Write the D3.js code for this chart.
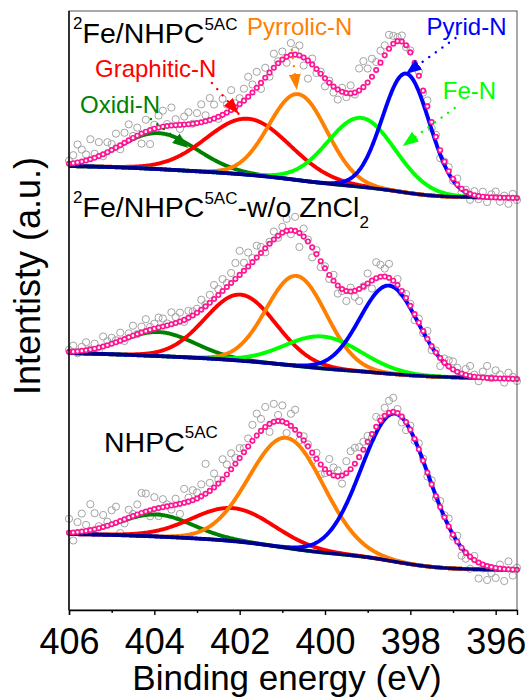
<!DOCTYPE html>
<html>
<head>
<meta charset="utf-8">
<title>N 1s XPS</title>
<style>
  body { margin: 0; background: #fff; }
  svg { display: block; font-family: "Liberation Sans", Arial, sans-serif; }
</style>
</head>
<body>
<div id="chart"></div>
<script src="https://d3js.org/d3.v7.min.js"></script>
<script>
// binding energy of every measured point (eV), 406.0 down to 395.5
var energies = d3.range(0, 106).map(function (i) { return +(406 - i * 0.1).toFixed(1); });

// fitted components
var components = ["Oxidi-N", "Graphitic-N", "Pyrrolic-N", "Fe-N", "Pyrid-N"];
var compColors = ["#008000", "#ff0000", "#ff8000", "#00ff00", "#0000ff"];

// one row per sample, top to bottom (0 = component not used)
var peakCenters = [
    [403.9, 401.8, 400.63, 399.15, 398.1],
    [403.9, 401.98, 400.67, 400.05, 398.5],
    [403.95, 402.15, 400.9, 0, 398.35]
];
var peakHeights = [
    [36, 56, 86, 69, 119],
    [24, 66, 90, 32, 88],
    [22, 33, 110, 0, 148]
];
var peakWidths = [      // FWHM, eV
    [2.1, 2.3, 1.6, 1.85, 1.3],
    [2.0, 1.95, 1.65, 2.1, 1.6],
    [2.0, 2.26, 2.05, 0, 1.85]
];

// background: level at 395.5 eV, linear rise, Shirley step
var bgLow = [412, 231, 40];
var bgLinear = [8, 12, 7];
var bgStep = [24, 14, 29];

// measured counts minus the fit, one value per energy
var residuals = [
    [3, 8, 18, 12, 6, 20, 4, 14, -2, 10,
     6, 14, -4, 10, 16, 2, 8, -10, 12, -14,
     4, 12, 16, 2, 18, 6, -4, 8, 12, 0,
     10, 18, 6, 22, 14, -2, 16, 8, 20, 4,
     6, 12, 20, 8, 16, -6, 10, -4, 14, 2,
     8, -6, 12, 4, 10, -8, -18, 6, -4, 2,
     -8, 2, -6, -10, 4, -4, 8, -2, 22, 26,
     14, 18, 8, 12, 10, 14, 8, 4, 6, -2,
     2, -4, 4, -2, 6, -6, 2, -8, 0, 4,
     -2, 6, -4, 2, -6, 4, -3, 5, -5, 3,
     6, -4, 2, -6, 4, -2],
    [2, 6, -2, 4, 8, 0, 5, -3, 10, 4,
     6, 2, 8, -2, 4, 10, 0, 6, 12, 3,
     5, 10, 8, 2, 12, 6, 9, -2, 7, 4,
     4, 10, 2, 8, 14, 6, 12, 4, 10, 16,
     24, 8, 14, 4, 12, 6, -4, 2, 8, -2,
     6, 12, -4, 14, -14, 8, 2, -10, 4, -6,
     2, -4, 6, -8, -2, -10, 4, -6, -12, 0,
     10, -8, 16, 12, 8, 14, -4, 6, -2, 4,
     2, -6, 4, -2, 8, -4, 2, -8, 4, 6,
     8, 4, -2, 6, 10, 2, -4, 6, 12, 0,
     8, 4, -4, 6, 2, -2],
    [14, -8, 10, 18, 6, 26, 16, 2, 12, 4,
     14, 16, -12, -4, 8, 2, 10, 20, 18, -6,
     12, -8, 8, 2, -4, 6, -10, 14, 4, 10,
     6, 12, 30, 8, 14, 4, 20, 10, 16, 6,
     10, 4, 8, 16, 22, 12, 20, -8, 18, 6,
     16, -10, 12, 20, -6, 4, 2, -8, 6, -10,
     -4, 14, 8, 6, -8, 12, 18, 16, 10, 8,
     6, -4, 10, 2, 8, 12, 14, 4, -6, -8,
     4, -2, 6, 2, -4, 4, -2, 6, 2, 8,
     -2, 6, -8, -6, -12, 4, -16, -4, -14, -6,
     -10, 4, -12, 8, -6, 2]
];

var xTicks = d3.range(396, 407);

// ---------------------------------------------------------------
var W = 529, H = 698;
var mLeft = 69, mRight = 517, mTop = 11, mBottom = 610;

var svg = d3.select("#chart").append("svg")
    .attr("width", W).attr("height", H);

var x = d3.scaleLinear().domain([406, 395.5]).range([mLeft, mRight]);
var y = d3.scaleLinear().domain([0, 599]).range([mBottom, mTop]);

function erf(z) {
    var t = 1 / (1 + 0.3275911 * Math.abs(z));
    var r = 1 - (((((1.061405429 * t - 1.453152027) * t) + 1.421413741) * t - 0.284496736) * t + 0.254829592) * t * Math.exp(-z * z);
    return z >= 0 ? r : -r;
}
function phi(z) { return 0.5 * (1 + erf(z / Math.SQRT2)); }

var fine = d3.range(0, 526).map(function (i) { return 406 - i * 0.02; });
var line = d3.line().x(function (d) { return x(d[0]); }).y(function (d) { return y(d[1]); });

// arrow heads
var defs = svg.append("defs");
compColors.forEach(function (c, k) {
    defs.append("marker")
        .attr("id", "arrow" + k)
        .attr("markerUnits", "userSpaceOnUse")
        .attr("viewBox", "0 0 16 12")
        .attr("markerWidth", 16).attr("markerHeight", 12)
        .attr("refX", 16).attr("refY", 6)
        .attr("orient", "auto")
        .append("path").attr("d", "M0,0 L16,6 L0,12 Z").attr("fill", c);
});

var plot = svg.append("g");

for (var p = 0; p < 3; p++) {
    var peaks = [];
    components.forEach(function (name, k) {
        if (peakHeights[p][k] > 0) {
            var s = peakWidths[p][k] / 2.3548;
            peaks.push({ k: k, c: peakCenters[p][k], h: peakHeights[p][k], s: s,
                         area: peakHeights[p][k] * s });
        }
    });
    var totalArea = d3.sum(peaks, function (d) { return d.area; });

    var bg = (function (pp, pk, tot) {
        return function (E) {
            var below = d3.sum(pk, function (d) { return d.area * phi((E - d.c) / d.s); });
            return bgLow[pp] + bgLinear[pp] * (E - 395.5) / 10.5 + bgStep[pp] * below / tot;
        };
    })(p, peaks, totalArea);
    var gauss = function (d, E) { return d.h * Math.exp(-(E - d.c) * (E - d.c) / (2 * d.s * d.s)); };
    var fit = function (E) { return bg(E) + d3.sum(peaks, function (d) { return gauss(d, E); }); };

    var g = plot.append("g");

    // measured points
    g.selectAll("circle.raw")
        .data(energies.map(function (E, i) { return [E, fit(E) + residuals[p][i]]; }))
        .enter().append("circle")
        .attr("class", "raw")
        .attr("cx", function (d) { return x(d[0]); })
        .attr("cy", function (d) { return y(d[1]); })
        .attr("r", 3.6)
        .attr("fill", "none")
        .attr("stroke", "#a3a3a3")
        .attr("stroke-width", 1);

    // components
    peaks.forEach(function (d) {
        g.append("path")
            .datum(fine.map(function (E) { return [E, bg(E) + gauss(d, E)]; }))
            .attr("d", line)
            .attr("fill", "none")
            .attr("stroke", compColors[d.k])
            .attr("stroke-width", 3.9);
    });

    // background
    g.append("path")
        .datum(fine.map(function (E) { return [E, bg(E)]; }))
        .attr("d", line)
        .attr("fill", "none")
        .attr("stroke", "#000080")
        .attr("stroke-width", 3.4);

    // fit envelope
    g.selectAll("circle.fit")
        .data(energies.map(function (E) { return [E, fit(E)]; }))
        .enter().append("circle")
        .attr("class", "fit")
        .attr("cx", function (d) { return x(d[0]); })
        .attr("cy", function (d) { return y(d[1]); })
        .attr("r", 2.2)
        .attr("fill", "#fff")
        .attr("stroke", "#ff1493")
        .attr("stroke-width", 1.7);
}

// labels and arrows for the top spectrum (BE, intensity)
var notes = [
    { k: 0, at: [405.74, 497], from: [404.08, 491], to: [403.2, 462] },
    { k: 1, at: [405.39, 533], from: [402.65, 527], to: [402.02, 496] },
    { k: 2, at: [401.83, 575], from: [400.78, 560], to: [400.66, 520] },
    { k: 4, at: [397.62, 575], from: [396.94, 572], to: [398.11, 536] },
    { k: 3, at: [397.24, 511], from: [396.96, 502], to: [398.18, 464] }
];
notes.forEach(function (n) {
    svg.append("line")
        .attr("x1", x(n.from[0])).attr("y1", y(n.from[1]))
        .attr("x2", x(n.to[0])).attr("y2", y(n.to[1]))
        .attr("stroke", compColors[n.k])
        .attr("stroke-width", 2.4)
        .attr("stroke-linecap", "round")
        .attr("stroke-dasharray", "0.1,8")
        .attr("marker-end", "url(#arrow" + n.k + ")");
    svg.append("text")
        .attr("x", x(n.at[0])).attr("y", y(n.at[1]))
        .attr("font-size", 24)
        .attr("fill", compColors[n.k])
        .text(components[n.k]);
});

// sample names
function sampleName(x0, y0, parts) {
    var t = svg.append("text").attr("x", x0).attr("y", y0).attr("fill", "#000");
    parts.forEach(function (q) {
        t.append("tspan").attr("font-size", q[1]).attr("dy", q[2]).text(q[0]);
    });
}
sampleName(73, 43, [["2", 17, -14], ["Fe/NHPC", 28.5, 14], ["5AC", 17, -13]]);
sampleName(73, 217, [["2", 17, -14], ["Fe/NHPC", 28.5, 14], ["5AC", 17, -13],
                     ["-w/o ZnCl", 28.5, 13], ["2", 17, 11]]);
sampleName(104, 452, [["NHPC", 28.5, 0], ["5AC", 17, -14]]);

// frame
svg.append("rect")
    .attr("x", mLeft).attr("y", mTop)
    .attr("width", mRight - mLeft).attr("height", mBottom - mTop)
    .attr("fill", "none").attr("stroke", "#555").attr("stroke-width", 1);
svg.append("line").attr("x1", mLeft).attr("x2", mLeft).attr("y1", mTop).attr("y2", mBottom)
    .attr("stroke", "#000").attr("stroke-width", 1.4);

// x axis
var xAxis = svg.append("g")
    .attr("transform", "translate(0," + mBottom + ")")
    .call(d3.axisBottom(x).tickValues(xTicks).tickSize(5).tickPadding(13)
        .tickFormat(function (d) { return d % 2 === 0 ? d : ""; }));
xAxis.select(".domain").attr("stroke", "#000").attr("stroke-width", 1.4);
xAxis.selectAll(".tick line").attr("stroke-width", 1.4)
    .filter(function (d) { return d % 2 !== 0; }).attr("y2", 3);
xAxis.selectAll(".tick text")
    .attr("font-size", 36)
    .attr("font-family", "'Liberation Sans', Arial, sans-serif")
    .attr("fill", "#000");

svg.append("text")
    .attr("x", 287).attr("y", 690)
    .attr("text-anchor", "middle")
    .attr("font-size", 35)
    .text("Binding energy (eV)");

svg.append("text")
    .attr("transform", "translate(40,276) rotate(-90)")
    .attr("text-anchor", "middle")
    .attr("font-size", 36)
    .text("Intentisty (a.u.)");
</script>
</body>
</html>
